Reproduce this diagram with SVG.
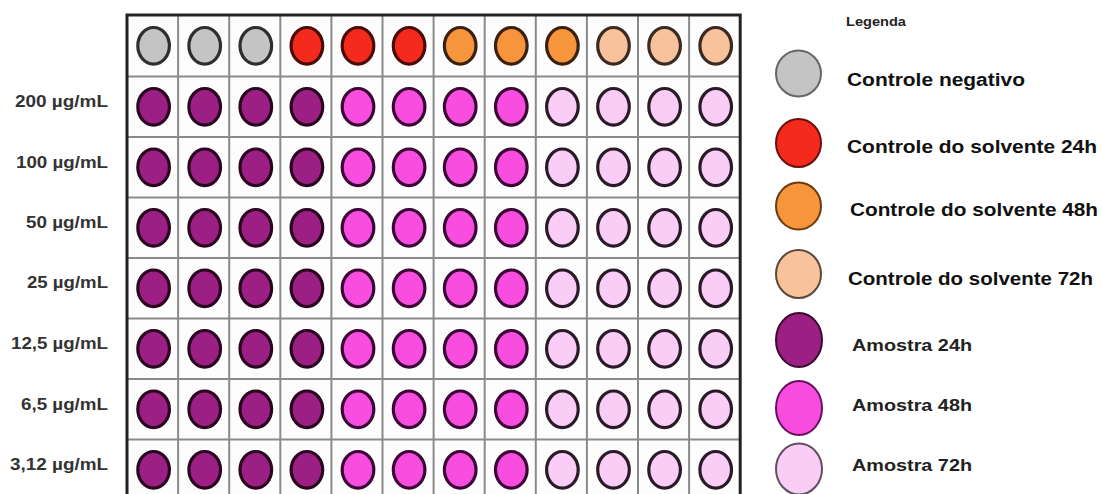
<svg xmlns="http://www.w3.org/2000/svg" width="1102" height="494" viewBox="0 0 1102 494">
<style>
.bg{fill:#ffffff}
.gl{stroke:#8a8a8a;stroke-width:2;fill:none}
.border{stroke:#222;stroke-width:3;fill:none}
.w{stroke-width:3.2}
.lg{stroke-width:2}
.gray{fill:#c4c4c4;stroke:#2e2e2e}
.red{fill:#f42a1c;stroke:#4a0a08}
.orange{fill:#f6953c;stroke:#3a2010}
.peach{fill:#f8c29c;stroke:#3a2a20}
.purple{fill:#9c1f83;stroke:#2a0520}
.magenta{fill:#f94ddf;stroke:#3a0535}
.pink{fill:#f9cdf5;stroke:#2a1a28}
.lgray{fill:#c4c4c4;stroke:#666}
.lred{fill:#f42a1c;stroke:#6a1010}
.lorange{fill:#f6953c;stroke:#6a3a10}
.lpeach{fill:#f8c29c;stroke:#5a4a3a}
.lpurple{fill:#9c1f83;stroke:#3a0a30}
.lmagenta{fill:#f94ddf;stroke:#6a1060}
.lpink{fill:#f9cdf5;stroke:#605060}
.row{font-family:"Liberation Sans",Arial,sans-serif;font-weight:bold;font-size:16px;fill:#333;text-anchor:end}
.leg{font-family:"Liberation Sans",Arial,sans-serif;font-weight:bold;font-size:18px;fill:#111}
.am{font-family:"Liberation Sans",Arial,sans-serif;font-weight:bold;font-size:17px;fill:#222}
.title{font-family:"Liberation Sans",Arial,sans-serif;font-weight:bold;font-size:13px;fill:#222}
</style>
<defs>
<ellipse id="well" cx="0" cy="0" rx="15.8" ry="18.3"/>
</defs>
<rect class="bg" x="0" y="0" width="1102" height="494"/>

<g id="plate">
<rect x="127" y="15" width="613.2" height="485" fill="#fdfdfd"/>
<g id="gridlines" class="gl">
<line x1="178.1" y1="15" x2="178.1" y2="500"/>
<line x1="229.2" y1="15" x2="229.2" y2="500"/>
<line x1="280.3" y1="15" x2="280.3" y2="500"/>
<line x1="331.4" y1="15" x2="331.4" y2="500"/>
<line x1="382.5" y1="15" x2="382.5" y2="500"/>
<line x1="433.6" y1="15" x2="433.6" y2="500"/>
<line x1="484.7" y1="15" x2="484.7" y2="500"/>
<line x1="535.8" y1="15" x2="535.8" y2="500"/>
<line x1="586.9" y1="15" x2="586.9" y2="500"/>
<line x1="638" y1="15" x2="638" y2="500"/>
<line x1="689.1" y1="15" x2="689.1" y2="500"/>
<line x1="127" y1="76.5" x2="740.2" y2="76.5"/>
<line x1="127" y1="137" x2="740.2" y2="137"/>
<line x1="127" y1="197.5" x2="740.2" y2="197.5"/>
<line x1="127" y1="258" x2="740.2" y2="258"/>
<line x1="127" y1="318.5" x2="740.2" y2="318.5"/>
<line x1="127" y1="379" x2="740.2" y2="379"/>
<line x1="127" y1="439.5" x2="740.2" y2="439.5"/>
</g>
<path class="border" d="M127,500 V15 H740.2 V500"/>
</g>

<g id="wells-row0" class="w">
<use href="#well" x="153.6" y="45.8" class="gray"/>
<use href="#well" x="204.7" y="45.8" class="gray"/>
<use href="#well" x="255.8" y="45.8" class="gray"/>
<use href="#well" x="306.9" y="45.8" class="red"/>
<use href="#well" x="358.0" y="45.8" class="red"/>
<use href="#well" x="409.1" y="45.8" class="red"/>
<use href="#well" x="460.2" y="45.8" class="orange"/>
<use href="#well" x="511.3" y="45.8" class="orange"/>
<use href="#well" x="562.4" y="45.8" class="orange"/>
<use href="#well" x="613.5" y="45.8" class="peach"/>
<use href="#well" x="664.6" y="45.8" class="peach"/>
<use href="#well" x="715.7" y="45.8" class="peach"/>
</g>

<g id="wells-samples" class="w">
<g id="row-200">
<use href="#well" x="153.6" y="106.8" class="purple"/><use href="#well" x="204.7" y="106.8" class="purple"/><use href="#well" x="255.8" y="106.8" class="purple"/><use href="#well" x="306.9" y="106.8" class="purple"/>
<use href="#well" x="358.0" y="106.8" class="magenta"/><use href="#well" x="409.1" y="106.8" class="magenta"/><use href="#well" x="460.2" y="106.8" class="magenta"/><use href="#well" x="511.3" y="106.8" class="magenta"/>
<use href="#well" x="562.4" y="106.8" class="pink"/><use href="#well" x="613.5" y="106.8" class="pink"/><use href="#well" x="664.6" y="106.8" class="pink"/><use href="#well" x="715.7" y="106.8" class="pink"/>
</g>
<g id="row-100">
<use href="#well" x="153.6" y="167.3" class="purple"/><use href="#well" x="204.7" y="167.3" class="purple"/><use href="#well" x="255.8" y="167.3" class="purple"/><use href="#well" x="306.9" y="167.3" class="purple"/>
<use href="#well" x="358.0" y="167.3" class="magenta"/><use href="#well" x="409.1" y="167.3" class="magenta"/><use href="#well" x="460.2" y="167.3" class="magenta"/><use href="#well" x="511.3" y="167.3" class="magenta"/>
<use href="#well" x="562.4" y="167.3" class="pink"/><use href="#well" x="613.5" y="167.3" class="pink"/><use href="#well" x="664.6" y="167.3" class="pink"/><use href="#well" x="715.7" y="167.3" class="pink"/>
</g>
<g id="row-50">
<use href="#well" x="153.6" y="227.8" class="purple"/><use href="#well" x="204.7" y="227.8" class="purple"/><use href="#well" x="255.8" y="227.8" class="purple"/><use href="#well" x="306.9" y="227.8" class="purple"/>
<use href="#well" x="358.0" y="227.8" class="magenta"/><use href="#well" x="409.1" y="227.8" class="magenta"/><use href="#well" x="460.2" y="227.8" class="magenta"/><use href="#well" x="511.3" y="227.8" class="magenta"/>
<use href="#well" x="562.4" y="227.8" class="pink"/><use href="#well" x="613.5" y="227.8" class="pink"/><use href="#well" x="664.6" y="227.8" class="pink"/><use href="#well" x="715.7" y="227.8" class="pink"/>
</g>
<g id="row-25">
<use href="#well" x="153.6" y="288.3" class="purple"/><use href="#well" x="204.7" y="288.3" class="purple"/><use href="#well" x="255.8" y="288.3" class="purple"/><use href="#well" x="306.9" y="288.3" class="purple"/>
<use href="#well" x="358.0" y="288.3" class="magenta"/><use href="#well" x="409.1" y="288.3" class="magenta"/><use href="#well" x="460.2" y="288.3" class="magenta"/><use href="#well" x="511.3" y="288.3" class="magenta"/>
<use href="#well" x="562.4" y="288.3" class="pink"/><use href="#well" x="613.5" y="288.3" class="pink"/><use href="#well" x="664.6" y="288.3" class="pink"/><use href="#well" x="715.7" y="288.3" class="pink"/>
</g>
<g id="row-12-5">
<use href="#well" x="153.6" y="348.8" class="purple"/><use href="#well" x="204.7" y="348.8" class="purple"/><use href="#well" x="255.8" y="348.8" class="purple"/><use href="#well" x="306.9" y="348.8" class="purple"/>
<use href="#well" x="358.0" y="348.8" class="magenta"/><use href="#well" x="409.1" y="348.8" class="magenta"/><use href="#well" x="460.2" y="348.8" class="magenta"/><use href="#well" x="511.3" y="348.8" class="magenta"/>
<use href="#well" x="562.4" y="348.8" class="pink"/><use href="#well" x="613.5" y="348.8" class="pink"/><use href="#well" x="664.6" y="348.8" class="pink"/><use href="#well" x="715.7" y="348.8" class="pink"/>
</g>
<g id="row-6-5">
<use href="#well" x="153.6" y="409.3" class="purple"/><use href="#well" x="204.7" y="409.3" class="purple"/><use href="#well" x="255.8" y="409.3" class="purple"/><use href="#well" x="306.9" y="409.3" class="purple"/>
<use href="#well" x="358.0" y="409.3" class="magenta"/><use href="#well" x="409.1" y="409.3" class="magenta"/><use href="#well" x="460.2" y="409.3" class="magenta"/><use href="#well" x="511.3" y="409.3" class="magenta"/>
<use href="#well" x="562.4" y="409.3" class="pink"/><use href="#well" x="613.5" y="409.3" class="pink"/><use href="#well" x="664.6" y="409.3" class="pink"/><use href="#well" x="715.7" y="409.3" class="pink"/>
</g>
<g id="row-3-12">
<use href="#well" x="153.6" y="469.8" class="purple"/><use href="#well" x="204.7" y="469.8" class="purple"/><use href="#well" x="255.8" y="469.8" class="purple"/><use href="#well" x="306.9" y="469.8" class="purple"/>
<use href="#well" x="358.0" y="469.8" class="magenta"/><use href="#well" x="409.1" y="469.8" class="magenta"/><use href="#well" x="460.2" y="469.8" class="magenta"/><use href="#well" x="511.3" y="469.8" class="magenta"/>
<use href="#well" x="562.4" y="469.8" class="pink"/><use href="#well" x="613.5" y="469.8" class="pink"/><use href="#well" x="664.6" y="469.8" class="pink"/><use href="#well" x="715.7" y="469.8" class="pink"/>
</g>
</g>

<g id="row-labels">
<text class="row" x="108" y="107" textLength="93" lengthAdjust="spacingAndGlyphs">200 µg/mL</text>
<text class="row" x="108" y="167.5" textLength="92" lengthAdjust="spacingAndGlyphs">100 µg/mL</text>
<text class="row" x="108" y="228" textLength="82" lengthAdjust="spacingAndGlyphs">50 µg/mL</text>
<text class="row" x="108" y="288" textLength="81" lengthAdjust="spacingAndGlyphs">25 µg/mL</text>
<text class="row" x="108" y="349" textLength="97" lengthAdjust="spacingAndGlyphs">12,5 µg/mL</text>
<text class="row" x="108" y="409.5" textLength="87" lengthAdjust="spacingAndGlyphs">6,5 µg/mL</text>
<text class="row" x="108" y="470" textLength="98" lengthAdjust="spacingAndGlyphs">3,12 µg/mL</text>
</g>

<g id="legend">
<text class="title" x="846" y="26" textLength="60" lengthAdjust="spacingAndGlyphs">Legenda</text>
<g id="leg-neg"><ellipse class="lgray lg" cx="798.5" cy="73.5" rx="22.5" ry="23"/><text class="leg" x="847" y="86" textLength="178" lengthAdjust="spacingAndGlyphs">Controle negativo</text></g>
<g id="leg-s24"><ellipse class="lred lg" cx="798.5" cy="143" rx="22.5" ry="24"/><text class="leg" x="847" y="153" textLength="250" lengthAdjust="spacingAndGlyphs">Controle do solvente 24h</text></g>
<g id="leg-s48"><ellipse class="lorange lg" cx="798.5" cy="206" rx="22.5" ry="23.5"/><text class="leg" x="850" y="216" textLength="248" lengthAdjust="spacingAndGlyphs">Controle do solvente 48h</text></g>
<g id="leg-s72"><ellipse class="lpeach lg" cx="798.5" cy="274" rx="22.5" ry="24"/><text class="leg" x="848" y="285" textLength="245" lengthAdjust="spacingAndGlyphs">Controle do solvente 72h</text></g>
<g id="leg-a24"><ellipse class="lpurple lg" cx="799" cy="340" rx="23" ry="27"/><text class="am" x="852" y="351" textLength="120" lengthAdjust="spacingAndGlyphs">Amostra 24h</text></g>
<g id="leg-a48"><ellipse class="lmagenta lg" cx="799" cy="408" rx="23" ry="27"/><text class="am" x="852" y="411" textLength="120" lengthAdjust="spacingAndGlyphs">Amostra 48h</text></g>
<g id="leg-a72"><ellipse class="lpink lg" cx="799" cy="469" rx="23" ry="25.5"/><text class="am" x="852" y="471" textLength="120" lengthAdjust="spacingAndGlyphs">Amostra 72h</text></g>
</g>
</svg>
